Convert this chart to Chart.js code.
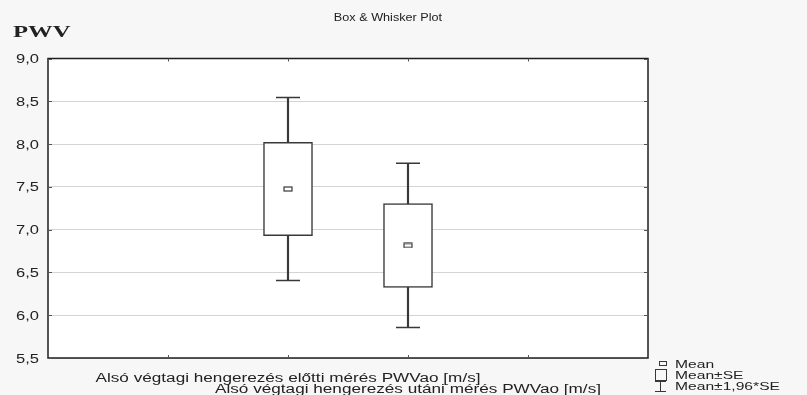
<!DOCTYPE html>
<html>
<head>
<meta charset="utf-8">
<title>Box & Whisker Plot</title>
<script src="https://cdn.jsdelivr.net/npm/chart.js@4/dist/chart.umd.min.js"></script>
<style>
    html, body { margin: 0; padding: 0; background: #f7f7f7; }
    #wrap { width: 807px; height: 395px; position: relative; }
</style>
</head>
<body>
<div id="wrap"><canvas id="pwv-chart" width="807" height="395"></canvas></div>
<script>
// Groups sit at x = 2 and 3 on a 0..5 axis, ticks at 1..4
const groupPositions = [2, 3];
const xTickValues = [1, 2, 3, 4];
const groupLabels = [
    'Alsó végtagi hengerezés előtti mérés PWVao [m/s]',
    'Alsó végtagi hengerezés utáni mérés PWVao [m/s]'
];

// PWV means, Mean±SE box and Mean±1,96*SE whiskers
const meanValues = [7.475, 6.815];
const seLow = [6.93, 6.325];
const seHigh = [8.02, 7.305];
const ciLow = [6.405, 5.855];
const ciHigh = [8.545, 7.775];

const yMin = 5.5;
const yMax = 9.0;
const yStep = 0.5;

const LINE = '#383838';
const TEXT = '#222222';

// Mean marker: small hollow rectangle, wider than tall
function meanMarker() {
    const c = document.createElement('canvas');
    c.width = 10;
    c.height = 6;
    const ctx = c.getContext('2d');
    ctx.fillStyle = '#fff';
    ctx.fillRect(0, 0, 10, 6);
    ctx.strokeStyle = LINE;
    ctx.lineWidth = 1.2;
    ctx.strokeRect(1, 1, 8, 4);
    return c;
}

// Text in this chart is drawn wide, so scale glyphs horizontally
function wideText(ctx, text, x, y, align, font, sx) {
    ctx.save();
    ctx.font = font;
    ctx.textBaseline = 'alphabetic';
    ctx.textAlign = 'left';
    const w = ctx.measureText(text).width * sx;
    let left = x;
    if (align === 'center') left = x - w / 2;
    if (align === 'right') left = x - w;
    ctx.translate(left, y);
    ctx.scale(sx, 1);
    ctx.fillStyle = TEXT;
    ctx.fillText(text, 0, 0);
    ctx.restore();
}

const pair = (vals) => groupPositions.map((x, i) => ({ x: x, y: vals[i] }));
const range = (lo, hi) => groupPositions.map((x, i) => ({ x: x, y: [lo[i], hi[i]] }));

const backdrop = {
    id: 'backdrop',
    beforeDraw(chart) {
        const { ctx, chartArea: a } = chart;
        ctx.save();
        ctx.fillStyle = '#f7f7f7';
        ctx.fillRect(0, 0, chart.width, chart.height);
        ctx.fillStyle = '#ffffff';
        ctx.fillRect(a.left, a.top, a.right - a.left, a.bottom - a.top);
        ctx.restore();
    }
};

const frameAndText = {
    id: 'frameAndText',
    afterDraw(chart) {
        const { ctx, chartArea: a, scales } = chart;
        const x = scales.x, y = scales.y;

        // plot frame
        ctx.save();
        ctx.strokeStyle = '#1e1e1e';
        ctx.lineWidth = 1.5;
        ctx.strokeRect(a.left, a.top, a.right - a.left, a.bottom - a.top);

        // short inward tick marks
        ctx.lineWidth = 1;
        ctx.strokeStyle = '#555';
        ctx.beginPath();
        xTickValues.forEach(v => {
            const px = Math.round(x.getPixelForValue(v)) + 0.5;
            ctx.moveTo(px, a.top); ctx.lineTo(px, a.top + 3);
            ctx.moveTo(px, a.bottom); ctx.lineTo(px, a.bottom - 3);
        });
        y.ticks.forEach(t => {
            const py = Math.round(y.getPixelForValue(t.value)) + 0.5;
            ctx.moveTo(a.right, py); ctx.lineTo(a.right - 4, py);
            ctx.moveTo(a.left, py); ctx.lineTo(a.left + 4, py);
        });
        ctx.stroke();
        ctx.restore();

        // y tick labels with comma decimals
        y.ticks.forEach(t => {
            const py = y.getPixelForValue(t.value);
            wideText(ctx, t.value.toFixed(1).replace('.', ','), 39, py + 4.5, 'right', '12.5px "Liberation Sans", Arial, sans-serif', 1.32);
        });

        // staggered group labels, each centred under its box
        groupLabels.forEach((label, i) => {
            const px = x.getPixelForValue(groupPositions[i]);
            wideText(ctx, label, px, 382 + i * 10.5, 'center', '12px "Liberation Sans", Arial, sans-serif', 1.43);
        });

        // title and variable name
        wideText(ctx, 'Box & Whisker Plot', 388, 21, 'center', '11.5px "Liberation Sans", Arial, sans-serif', 1.1);
        wideText(ctx, 'PWV', 13, 37, 'left', 'bold 17px "Liberation Serif", "Times New Roman", serif', 1.45);

        // legend
        ctx.save();
        ctx.strokeStyle = LINE;
        ctx.lineWidth = 1;
        ctx.strokeRect(659.5, 361.5, 7, 4);
        ctx.strokeRect(655.5, 369.5, 11, 11);
        ctx.beginPath();
        ctx.moveTo(655, 381.5); ctx.lineTo(666, 381.5);
        ctx.moveTo(660.5, 381.5); ctx.lineTo(660.5, 392);
        ctx.moveTo(655, 391.5); ctx.lineTo(666, 391.5);
        ctx.stroke();
        ctx.restore();
        const legendFont = '11px "Liberation Sans", Arial, sans-serif';
        wideText(ctx, 'Mean', 675, 368, 'left', legendFont, 1.42);
        wideText(ctx, 'Mean±SE', 675, 379, 'left', legendFont, 1.42);
        wideText(ctx, 'Mean±1,96*SE', 675, 390, 'left', legendFont, 1.42);
    }
};

const chart = new Chart(document.getElementById('pwv-chart'), {
    type: 'bar',
    data: {
        datasets: [
            {
                type: 'scatter',
                data: pair(meanValues),
                pointStyle: meanMarker(),
                pointRadius: 5,
                order: 0
            },
            {
                type: 'scatter',
                data: pair(ciHigh).concat(pair(ciLow)),
                pointStyle: 'line',
                pointRadius: 12,
                borderColor: LINE,
                borderWidth: 1.5,
                order: 1
            },
            {
                type: 'bar',
                data: range(seLow, seHigh),
                backgroundColor: '#ffffff',
                borderColor: LINE,
                borderWidth: 1.5,
                borderSkipped: false,
                barThickness: 49,
                grouped: false,
                order: 2
            },
            {
                type: 'bar',
                data: range(ciLow, ciHigh),
                backgroundColor: LINE,
                borderWidth: 0,
                barThickness: 1.5,
                grouped: false,
                order: 3
            }
        ]
    },
    options: {
        responsive: false,
        animation: false,
        events: [],
        layout: { padding: { left: 48, top: 58.5, right: 159, bottom: 29 } },
        plugins: {
            legend: { display: false },
            title: { display: false },
            tooltip: { enabled: false }
        },
        scales: {
            x: {
                type: 'linear',
                min: 0,
                max: 5,
                offset: false,
                ticks: { display: false },
                grid: { display: false },
                border: { display: false }
            },
            y: {
                min: yMin,
                max: yMax,
                ticks: { display: false, stepSize: yStep },
                grid: { color: '#d4d4d4', lineWidth: 1, drawTicks: false },
                border: { display: false }
            }
        }
    },
    plugins: [backdrop, frameAndText]
});
</script>
</body>
</html>
